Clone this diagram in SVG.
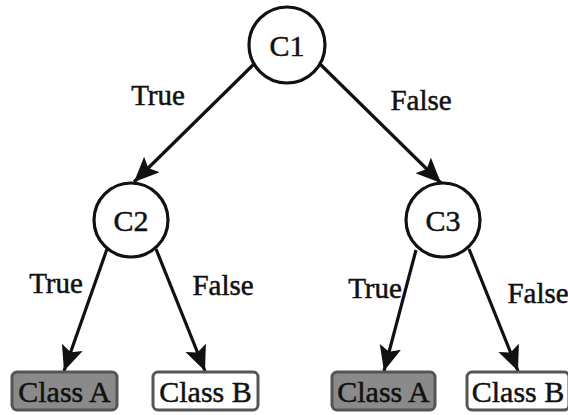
<svg xmlns="http://www.w3.org/2000/svg" width="568" height="415" viewBox="0 0 568 415">
<style>
.node{fill:#fff;stroke:#111;stroke-width:3.2}
.edge{stroke:#111;stroke-width:3.2;fill:none;marker-end:url(#ah)}
.t{font-family:"Liberation Serif","Times New Roman",serif;font-size:30px;fill:#111;stroke:#111;stroke-width:0.5;text-anchor:middle}
.lbl{font-family:"Liberation Serif","Times New Roman",serif;font-size:29px;fill:#111;stroke:#111;stroke-width:0.5;text-anchor:middle}
.boxA{fill:#8a8a8a;stroke:#555;stroke-width:3}
.boxB{fill:#fff;stroke:#555;stroke-width:3}
</style>
<defs>
<marker id="ah" markerUnits="userSpaceOnUse" markerWidth="28" markerHeight="24" refX="25" refY="11" orient="auto">
<path d="M0,0 L25,11 L0,22 L5,11 Z" fill="#111"/>
</marker>
</defs>
<rect width="568" height="415" fill="#fff"/>
<g id="connectors">
<line class="edge" x1="254" y1="64" x2="134" y2="182"/>
<line class="edge" x1="320" y1="64" x2="441" y2="183"/>
<line class="edge" x1="107" y1="249" x2="64" y2="371"/>
<line class="edge" x1="156" y1="249" x2="205" y2="371"/>
<line class="edge" x1="416" y1="250" x2="384" y2="371"/>
<line class="edge" x1="469" y1="249" x2="518" y2="371"/>
<text class="lbl" x="158" y="105">True</text>
<text class="lbl" x="421" y="110">False</text>
<text class="lbl" x="56" y="293">True</text>
<text class="lbl" x="223" y="295">False</text>
<text class="lbl" x="375" y="298">True</text>
<text class="lbl" x="538" y="303">False</text>
</g>
<g id="C1"><circle class="node" cx="287" cy="45" r="38"/><text class="t" x="287" y="56">C1</text></g>
<g id="C2"><circle class="node" cx="131" cy="220" r="37"/><text class="t" x="131" y="231">C2</text></g>
<g id="C3"><circle class="node" cx="443" cy="220" r="37"/><text class="t" x="443" y="231">C3</text></g>
<g id="classA1"><rect class="boxA" x="12" y="372" width="105" height="38" rx="5"/><text class="t" x="64.5" y="402">Class A</text></g>
<g id="classB1"><rect class="boxB" x="153" y="372" width="105" height="38" rx="5"/><text class="t" x="205.5" y="402">Class B</text></g>
<g id="classA2"><rect class="boxA" x="332" y="372" width="103" height="38" rx="5"/><text class="t" x="383.5" y="402">Class A</text></g>
<g id="classB2"><rect class="boxB" x="467" y="372" width="102" height="38" rx="5"/><text class="t" x="518" y="402">Class B</text></g>
</svg>
